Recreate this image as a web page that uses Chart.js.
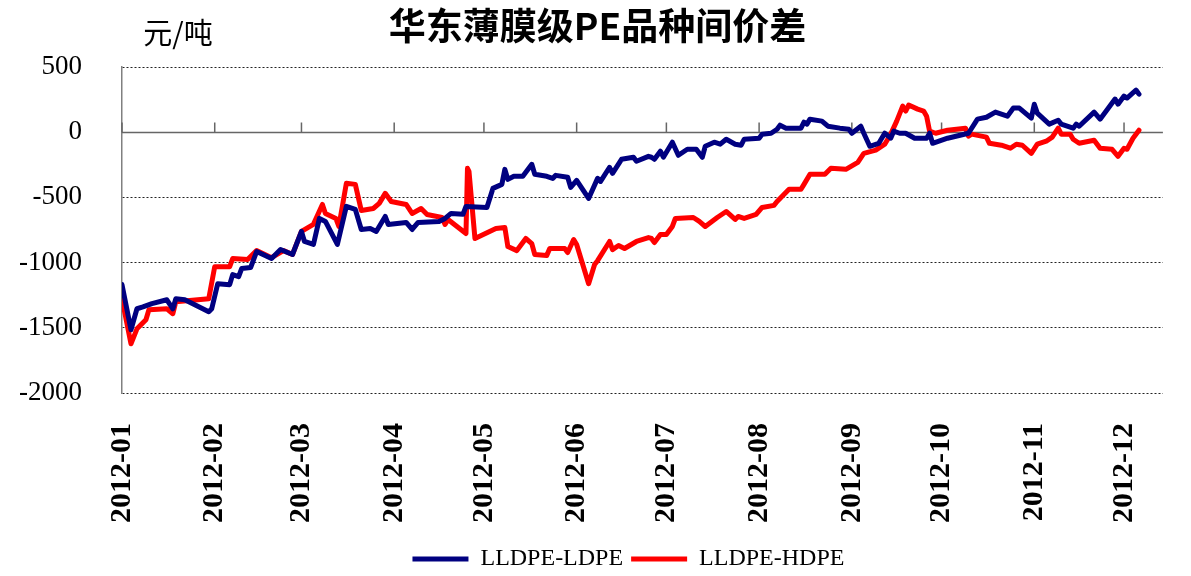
<!DOCTYPE html>
<html>
<head>
<meta charset="utf-8">
<script src="https://cdn.jsdelivr.net/npm/chart.js@4.4.1/dist/chart.umd.min.js"></script>
<style>
  body { margin: 0; background: #fff; }
  #wrap { width: 1191px; height: 576px; }
</style>
</head>
<body>
<div id="wrap"><canvas id="pe-chart" width="1191" height="576"></canvas></div>
<script>
    // month ticks (day of year 2012, Jan 1 = 0)
    const monthDays = [0, 31, 60, 91, 121, 152, 182, 213, 244, 274, 305, 335];
    const monthLabels = ["2012-01", "2012-02", "2012-03", "2012-04", "2012-05", "2012-06",
                         "2012-07", "2012-08", "2012-09", "2012-10", "2012-11", "2012-12"];
    const yTicks = [500, 0, -500, -1000, -1500, -2000];

    // LLDPE-LDPE (yuan/ton)
    const ldpeDays = [0, 3, 5, 7, 10, 15, 17, 18, 21, 29, 30, 32, 36, 37, 39, 40, 43, 45, 50, 53,
        57, 60, 61, 64, 66, 68, 72, 75, 78, 80, 83, 85, 88, 89, 95, 97, 99, 106, 108, 110,
        114, 115, 122, 124, 127, 128, 129, 131, 134, 137, 138, 142, 144, 145, 149, 150, 152, 156, 159, 160,
        163, 164, 167, 171, 172, 176, 177, 178, 180, 181, 184, 186, 189, 192, 194, 195, 198, 200, 202, 205,
        207, 208, 213, 214, 217, 219, 220, 222, 227, 228, 229, 230, 234, 236, 240, 243, 244, 247, 248, 250,
        253, 255, 257, 258, 260, 262, 265, 269, 270, 271, 276, 283, 286, 289, 292, 296, 298, 300, 304, 305,
        306, 310, 313, 314, 318, 319, 320, 325, 327, 332, 333, 335, 336, 339, 340];
    const ldpeValues = [-1169, -1515, -1354, -1340, -1315, -1285, -1354, -1277, -1285, -1377, -1354, -1162, -1169, -1092, -1108, -1046, -1038, -915, -969, -900,
        -938, -761, -838, -861, -661, -684, -861, -569, -592, -746, -738, -761, -646, -707, -692, -746, -692, -684, -661, -623,
        -630, -569, -577, -431, -400, -285, -362, -338, -338, -246, -323, -338, -354, -331, -346, -423, -369, -508, -354, -377,
        -269, -315, -208, -192, -223, -185, -192, -208, -146, -192, -77, -177, -131, -131, -192, -108, -77, -92, -54, -92,
        -100, -54, -46, -15, -8, 23, 54, 31, 31, 77, 62, 100, 85, 46, 31, 23, -8, 46, -8, -108,
        -85, -8, -46, 8, -8, -8, -46, -46, -8, -85, -46, -8, 100, 115, 154, 123, 185, 185, 108, 215,
        146, 62, 92, 62, 31, 62, 46, 154, 100, 254, 215, 277, 262, 323, 292];

    // LLDPE-HDPE (yuan/ton)
    const hdpeDays = [0, 3, 5, 8, 9, 15, 17, 18, 29, 31, 36, 37, 42, 45, 50, 54, 57, 60, 64, 67,
        68, 71.5, 72.5, 75, 78, 80, 84, 86, 88, 90, 95, 97, 100, 102, 107, 108, 109, 115, 115.5, 116,
        118, 125, 128, 129, 132, 135, 137, 138, 142, 143, 148, 149, 151, 152, 156, 158, 159, 163, 164, 166,
        168, 172, 176, 177, 178, 180, 182, 184, 185, 191, 193, 195, 199, 202, 205, 206, 208, 212, 214, 218,
        219, 223, 227, 228, 230, 235, 237, 242, 246, 248, 252, 255, 257, 259, 261, 262, 263, 266, 268, 269,
        270, 272, 276, 282, 283, 284, 289, 290, 294, 297, 299, 301, 304, 306, 309, 311, 313, 314, 317, 318,
        320, 325, 327, 331, 333, 335, 336, 338, 340];
    const hdpeValues = [-1277, -1623, -1508, -1438, -1362, -1354, -1392, -1300, -1277, -1031, -1031, -969, -977, -908, -962, -908, -938, -761, -707, -554,
        -623, -661, -723, -392, -400, -600, -585, -546, -469, -531, -554, -623, -585, -631, -654, -707, -669, -777, -277, -300,
        -815, -738, -731, -877, -908, -815, -854, -938, -946, -892, -892, -923, -823, -861, -1162, -1015, -985, -838, -900, -869,
        -892, -838, -808, -815, -846, -785, -785, -723, -661, -654, -684, -723, -654, -608, -669, -646, -661, -631, -577, -561,
        -531, -438, -438, -400, -323, -323, -277, -285, -231, -162, -138, -92, -15, 85, 200, 162, 208, 177, 162, 123,
        8, -8, 15, 31, -31, -15, -38, -85, -100, -123, -92, -100, -162, -92, -69, -38, 31, -15, -15, -54,
        -85, -62, -123, -131, -185, -123, -131, -46, 15];

    const toPoints = (days, vals) => days.map((d, i) => ({ x: d, y: vals[i] }));

    // solid zero line with small upward month ticks, and the unit label
    const zeroAxisPlugin = {
        id: "zeroAxis",
        afterLayout(chart) {
            // legend sits a little left of the plot centre, title a little right
            chart.legend.left -= 14;
            chart.legend.right -= 14;
            chart.titleBlock.left += 15;
            chart.titleBlock.right += 15;
        },
        beforeDatasetsDraw(chart) {
            const ctx = chart.ctx, x = chart.scales.x, y = chart.scales.y;
            const area = chart.chartArea;
            const y0 = Math.round(y.getPixelForValue(0)) + 0.5;
            ctx.save();
            ctx.strokeStyle = "#666";
            ctx.lineWidth = 1.5;
            ctx.beginPath();
            ctx.moveTo(area.left, y0);
            ctx.lineTo(area.right, y0);
            monthDays.forEach(d => {
                const px = x.getPixelForValue(d);
                ctx.moveTo(px, y0);
                ctx.lineTo(px, y0 - 10);
            });
            ctx.stroke();
            ctx.fillStyle = "#000";
            ctx.font = "29px 'Noto Sans CJK SC'";
            ctx.textAlign = "center";
            ctx.textBaseline = "middle";
            ctx.fillText("元/吨", area.left + 56, area.top - 34);
            ctx.restore();
        }
    };

    const ctx = document.getElementById("pe-chart").getContext("2d");
    new Chart(ctx, {
        type: "line",
        data: {
            datasets: [{
                label: "LLDPE-LDPE",
                data: toPoints(ldpeDays, ldpeValues),
                borderColor: "#000080",
                backgroundColor: "#000080",
                borderWidth: 5,
                pointRadius: 0,
                tension: 0,
                borderJoinStyle: "round",
                borderCapStyle: "round"
            }, {
                label: "LLDPE-HDPE",
                data: toPoints(hdpeDays, hdpeValues),
                borderColor: "#ff0000",
                backgroundColor: "#ff0000",
                borderWidth: 5,
                pointRadius: 0,
                tension: 0,
                borderJoinStyle: "round",
                borderCapStyle: "round"
            }]
        },
        options: {
            responsive: false,
            animation: false,
            layout: { padding: { left: 0, right: 26, top: 0, bottom: -5 } },
            plugins: {
                title: {
                    display: true,
                    text: "华东薄膜级PE品种间价差",
                    color: "#000",
                    font: { family: "'Noto Sans CJK SC'", size: 37, weight: "bold", lineHeight: 1.2 },
                    padding: { top: 4, bottom: 18.6 }
                },
                legend: {
                    position: "bottom",
                    fullSize: false,
                    labels: {
                        usePointStyle: true,
                        pointStyle: "line",
                        pointStyleWidth: 56,
                        padding: 8,
                        color: "#000",
                        font: { family: "'Liberation Serif'", size: 24 }
                    }
                },
                tooltip: { enabled: false }
            },
            scales: {
                x: {
                    type: "linear",
                    min: 0,
                    max: 348,
                    grid: { display: false, drawTicks: false },
                    border: { display: false },
                    afterBuildTicks: s => { s.ticks = monthDays.map(v => ({ value: v })); },
                    afterFit: s => { s.height = 576 + 5 - 391 - (s.chart.legend.height || 44); },
                    ticks: {
                        autoSkip: false,
                        minRotation: 90,
                        maxRotation: 90,
                        padding: 30,
                        color: "#000",
                        font: { family: "'Liberation Serif'", size: 30, weight: "bold" },
                        callback: v => monthLabels[monthDays.indexOf(v)]
                    }
                },
                y: {
                    min: -2000,
                    max: 500,
                    afterBuildTicks: s => { s.ticks = yTicks.map(v => ({ value: v })); },
                    afterFit: s => { s.width = 122; },
                    grid: {
                        drawTicks: false,
                        lineWidth: 1,
                        color: c => (c.tick && c.tick.value === 0) ? "rgba(0,0,0,0)" : "#222"
                    },
                    border: { display: true, color: "#808080", width: 1.5, dash: [2, 2] },
                    ticks: {
                        padding: 40,
                        color: "#000",
                        font: { family: "'Liberation Serif'", size: 27 },
                        callback: v => String(v)
                    }
                }
            }
        },
        plugins: [zeroAxisPlugin]
    });
</script>
</body>
</html>
